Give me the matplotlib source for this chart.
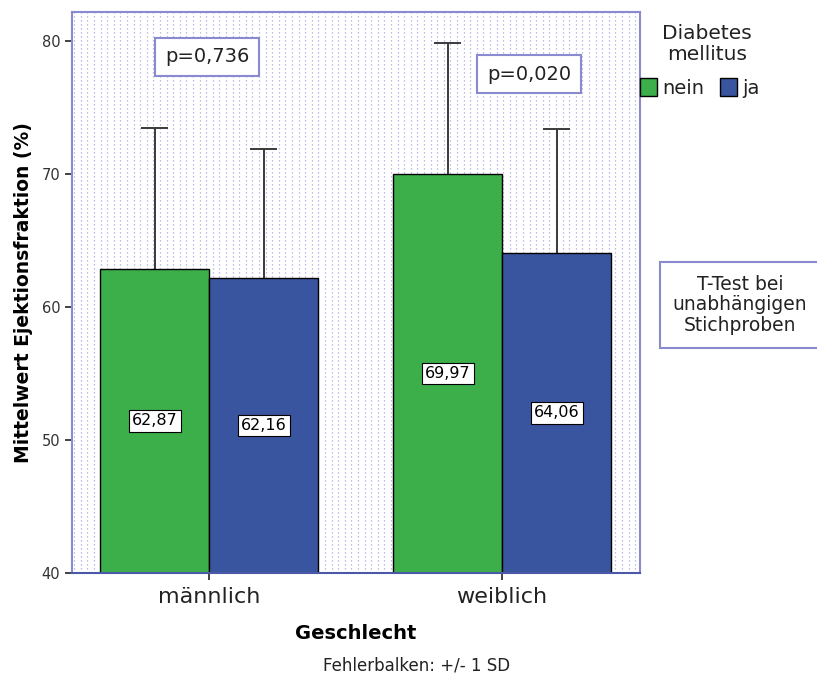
import numpy as np
import matplotlib
matplotlib.use("Agg")
import matplotlib.pyplot as plt
from matplotlib.patches import Patch

categories = ["männlich", "weiblich"]
groups = ["nein", "ja"]
means_nein = [62.87, 69.97]
means_ja = [62.16, 64.06]
sd_nein = [10.59, 9.88]
sd_ja = [9.72, 9.32]
p_values = ["p=0,736", "p=0,020"]
yticks = [40, 50, 60, 70, 80]

green = "#3cae4a"
blue = "#3a55a0"
frame = "#8a8ad0"

plt.rcParams["font.family"] = ["DejaVu Sans"]

fig = plt.figure(figsize=(8.17, 6.80), dpi=100)
ax = fig.add_axes([72 / 817, 107 / 680, 568 / 817, 561 / 680])

# dotted background pattern
for xf in np.arange(0.004, 1.0, 6.6 / 568):
    ax.plot([xf, xf], [0, 1], transform=ax.transAxes, color="#a9a9e0",
            lw=0.9, ls=(0, (1, 2.2)), zorder=0)

x = np.arange(len(categories))
w = 0.372
cap = 0.047
ax.bar(x - w / 2, np.array(means_nein) - 40, w, bottom=40, color=green,
       edgecolor="black", lw=1, zorder=2)
ax.bar(x + w / 2, np.array(means_ja) - 40, w, bottom=40, color=blue,
       edgecolor="black", lw=1, zorder=2)

for xs, m, s in [(x - w / 2, means_nein, sd_nein), (x + w / 2, means_ja, sd_ja)]:
    m = np.array(m)
    top = m + np.array(s)
    ax.vlines(xs, m, top, color="#3a3a3a", lw=1.4, zorder=1)
    ax.hlines(top, xs - cap, xs + cap, color="#3a3a3a", lw=1.4, zorder=1)
    for xi, mi in zip(xs, m):
        ax.text(xi, (40 + mi) / 2, f"{mi:.2f}".replace(".", ","), ha="center",
                va="center", fontsize=11.5,
                bbox=dict(boxstyle="square,pad=0.2", fc="white", ec="black", lw=0.8),
                zorder=4)

ax.set_xlim(-0.468, 1.471)
ax.set_ylim(40, 82.18)
ax.set_yticks(yticks)
ax.set_yticklabels([str(t) for t in yticks], fontsize=10.5, color="#333333")
ax.set_xticks(x)
ax.set_xticklabels(categories, fontsize=16, color="#222222")
ax.tick_params(axis="both", direction="out", length=5, width=1.2, color="#222222")
ax.tick_params(axis="x", pad=5)
for sp in ax.spines.values():
    sp.set_color(frame)
    sp.set_linewidth(1.5)
ax.spines["bottom"].set_color("#4a5aa8")

ax.set_ylabel("Mittelwert Ejektionsfraktion (%)", fontsize=13.5, fontweight="bold",
              labelpad=6)
ax.set_xlabel("Geschlecht", fontsize=14, fontweight="bold", labelpad=12)

# p-values of the group comparisons
for (cx, cy), pv in zip([(207, 57), (529, 74)], p_values):
    fig.text(cx / 817, 1 - cy / 680, pv, ha="center", va="center", fontsize=14,
             color="#222222",
             bbox=dict(boxstyle="square,pad=0.5", fc="white", ec=frame, lw=1.5),
             zorder=5)

fig.text(740 / 817, 1 - 305 / 680, "T-Test bei\nunabhängigen\nStichproben",
         ha="center", va="center", fontsize=13.5, linespacing=1.12, color="#222222",
         bbox=dict(boxstyle="square,pad=0.7", fc="white", ec=frame, lw=1.5))

fig.text(417 / 817, 1 - 666 / 680, "Fehlerbalken: +/- 1 SD", ha="center",
         va="center", fontsize=12, color="#222222")

# legend: title as separate text, entries in a row below
fig.text(707 / 817, 1 - 44 / 680, "Diabetes\nmellitus", ha="center", va="center",
         fontsize=14.5, linespacing=1.1, color="#222222")
handles = [Patch(facecolor=green, edgecolor="black", label=groups[0]),
           Patch(facecolor=blue, edgecolor="black", label=groups[1])]
leg = fig.legend(handles=handles, ncol=2,
                 loc="center", bbox_to_anchor=(700 / 817, 1 - 88 / 680),
                 frameon=False, fontsize=14,
                 handlelength=0.85, handleheight=1.0, handletextpad=0.3,
                 columnspacing=0.8, borderpad=0.2,
                 labelcolor="#222222")

fig.savefig("out.png", dpi=100)
